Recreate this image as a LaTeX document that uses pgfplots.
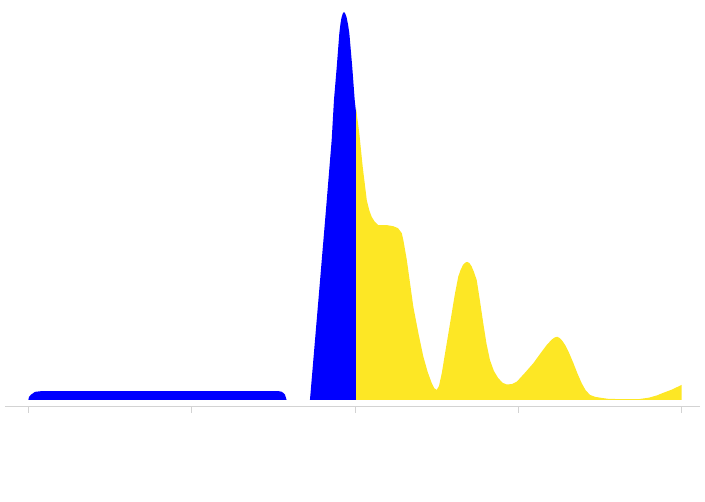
\documentclass[border=0pt]{standalone}
\usepackage{pgfplots}
\pgfplotsset{compat=1.18}
\definecolor{vyellow}{RGB}{253,231,37}
\definecolor{axgray}{RGB}{211,211,211}
\begin{document}
\begin{tikzpicture}
\useasboundingbox (0,0) rectangle (705pt,502pt);
\begin{axis}[
  at={(5pt,96pt)}, anchor=south west,
  scale only axis, width=695pt, height=406pt,
  xmin=-0.143, xmax=4.112, ymin=-0.0155, ymax=1.031,
  axis x line=bottom, axis y line=none,
  axis line style={axgray, line width=0.9pt, -},
  xtick={0,1,2,3,4}, xticklabels={},
  xtick pos=bottom, tick align=outside,
  major tick length=7pt,
  tick style={axgray, line width=0.9pt},
  ytick=\empty,
  clip=false,
]
\addplot[fill=blue, draw=none] coordinates {
(0,0) (0.004,0.008) (0.017,0.014) (0.041,0.021) (0.084,0.023)
(1.529,0.023) (1.553,0.021) (1.571,0.014) (1.581,0)
} \closedcycle;
\addplot[fill=blue, draw=none] coordinates {
(1.724,0) (1.786,0.309) (1.823,0.495) (1.857,0.670) (1.871,0.773)
(1.888,0.858) (1.904,0.946) (1.911,0.970) (1.917,0.985) (1.925,0.996) (1.932,1.0)
(1.940,0.996) (1.948,0.987) (1.957,0.968) (1.965,0.946) (1.983,0.858) (1.998,0.773) (2.006,0.742) (2.006,0)
} \closedcycle;
\addplot[fill=vyellow, draw=none] coordinates {
(2.006,0) (2.006,0.753) (2.016,0.720) (2.026,0.688) (2.047,0.601) (2.072,0.515)
(2.088,0.488) (2.102,0.472) (2.120,0.460) (2.141,0.451) (2.190,0.451) (2.233,0.448)
(2.263,0.443) (2.286,0.430) (2.296,0.412) (2.317,0.361) (2.357,0.240)
(2.390,0.168) (2.418,0.112) (2.445,0.072) (2.470,0.043) (2.486,0.030) (2.500,0.026)
(2.514,0.036) (2.531,0.069) (2.555,0.130) (2.582,0.198) (2.610,0.270) (2.632,0.318)
(2.647,0.336) (2.661,0.348) (2.674,0.354) (2.687,0.356) (2.700,0.353) (2.713,0.345)
(2.728,0.330) (2.745,0.309) (2.765,0.255) (2.785,0.198)
(2.805,0.145) (2.826,0.103) (2.850,0.075) (2.877,0.056) (2.905,0.044) (2.929,0.040)
(2.960,0.041) (2.990,0.047) (3.040,0.070) (3.092,0.095) (3.135,0.120) (3.174,0.142)
(3.205,0.156) (3.222,0.161) (3.237,0.163) (3.252,0.160) (3.268,0.153) (3.286,0.142) (3.312,0.120) (3.337,0.095)
(3.362,0.068) (3.388,0.043) (3.412,0.025) (3.439,0.013) (3.470,0.008) (3.500,0.006)
(3.549,0.003) (3.640,0.002) (3.733,0.002) (3.800,0.006) (3.850,0.012) (3.878,0.017)
(3.941,0.027) (4.0,0.039) (4.0,0)
} \closedcycle;
\end{axis}
\end{tikzpicture}
\end{document}
